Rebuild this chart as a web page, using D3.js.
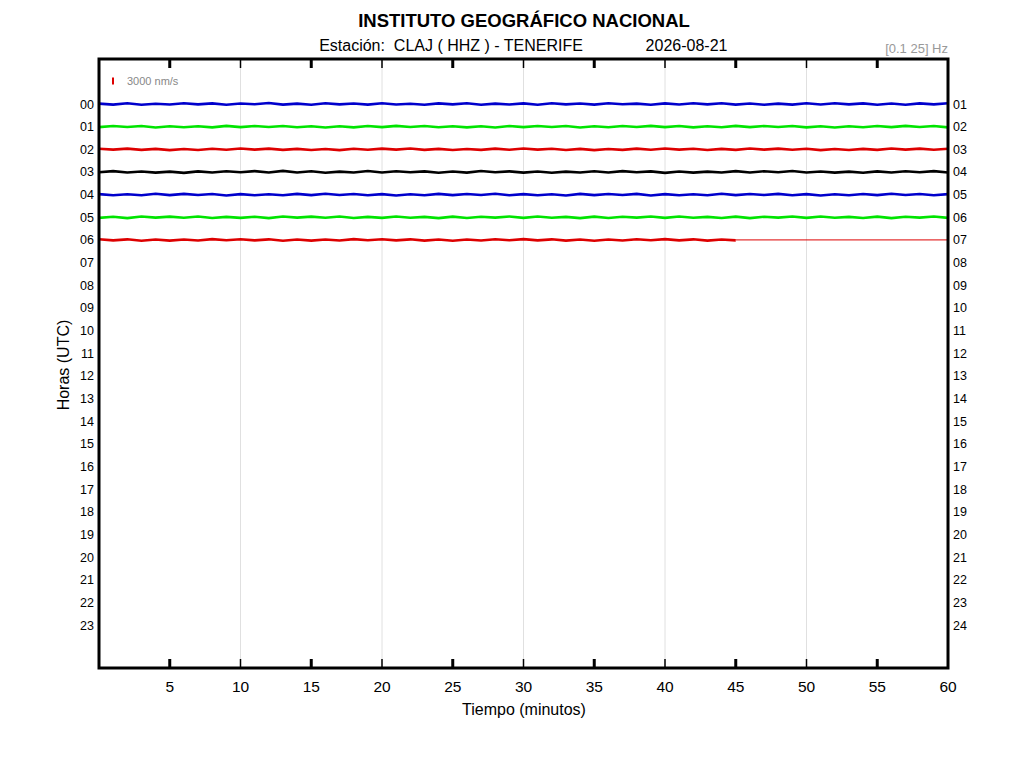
<!DOCTYPE html>
<html><head><meta charset="utf-8">
<script src="https://cdn.jsdelivr.net/npm/d3@7"></script>
<style>body{margin:0;background:#fff;font-family:"Liberation Sans",Arial,sans-serif}</style>
</head><body><svg id="c" width="1024" height="768"></svg>
<script>
// ---- data ----
const title = "INSTITUTO GEOGRÁFICO NACIONAL";
const station = "Estación:  CLAJ ( HHZ ) - TENERIFE";
const dateLabel = "2026-08-21";
const bandLabel = "[0.1 25] Hz";
const scaleLabel = "3000 nm/s";
const scaleValue = 3000;
const hoursLeft = ["00","01","02","03","04","05","06","07","08","09","10","11","12","13","14","15","16","17","18","19","20","21","22","23"];
const hoursRight = ["01","02","03","04","05","06","07","08","09","10","11","12","13","14","15","16","17","18","19","20","21","22","23","24"];
const xTicks = [5,10,15,20,25,30,35,40,45,50,55,60];
const gridMinutes = [10,20,30,40,50];
const traceColors = ["#0000cc","#00e400","#dd0000","#000000"];
const traceEnd = [60,60,60,60,60,60,45]; // minute where recorded data stops
// samples (nm/s), read approx. from picture
const trace00 = [150,-250,300,-350,100,-200,350,-150,250,-300,200,-100,400,-250,150,-350,300,-150,200,-250,350,-200,100,-300,250,-150,300,-350,150,-200,250,-300,350,-150,200,-250,300,-100,150,-350,250,-200,300,-150,350,-250,200,-300,150,-250,300,-200,350,-150,250,-300,200,-350,250,-150,300];
const trace01 = [-200,300,-150,250,-350,200,-250,150,-300,350,-200,250,-150,300,-250,200,-350,150,-300,250,-200,350,-150,300,-250,200,-300,150,-350,250,-200,300,-150,250,-350,200,-250,300,-150,350,-200,250,-300,150,-250,350,-200,300,-150,250,-300,200,-350,150,-250,300,-200,350,-150,250,-300];
const trace02 = [250,-150,300,-250,200,-350,150,-300,250,-200,350,-150,300,-250,200,-300,150,-350,250,-200,300,-150,350,-250,200,-300,150,-250,300,-200,350,-150,250,-300,200,-350,150,-250,300,-200,350,-150,250,-300,200,-250,350,-150,300,-200,250,-350,150,-300,200,-250,350,-150,300,-200,250];
const trace03 = [-150,350,-250,200,-300,150,-400,250,-200,300,-150,350,-250,450,-200,300,-350,150,-250,400,-200,300,-150,250,-350,200,-300,400,-150,250,-300,200,-350,150,-250,300,-200,350,-150,250,-400,200,-300,150,-250,350,-200,300,-150,400,-250,200,-300,150,-350,250,-200,300,-150,350,-250];
const trace04 = [200,-300,150,-250,350,-200,300,-150,250,-350,200,-300,150,-250,300,-200,350,-150,250,-300,200,-350,150,-250,300,-200,250,-150,350,-300,200,-250,150,-350,300,-200,250,-150,300,-350,200,-250,150,-300,350,-200,250,-150,300,-250,200,-350,150,-300,250,-200,350,-150,250,-300,200];
const trace05 = [-250,200,-350,300,-150,250,-200,350,-300,150,-250,200,-350,300,-150,250,-200,350,-300,150,-250,300,-200,150,-350,250,-300,200,-150,350,-250,300,-200,150,-350,250,-300,200,-150,350,-250,300,-200,150,-300,250,-350,200,-150,300,-250,350,-200,150,-300,250,-350,200,-150,300,-250];
const trace06 = [300,-200,250,-350,150,-300,200,-250,350,-150,300,-200,250,-350,150,-300,200,-250,350,-150,300,-200,250,-300,150,-350,200,-250,300,-150,350,-200,250,-300,150,-350,200,-250,300,-150,350,-200,250,-300,150,-200];
const traces = [trace00,trace01,trace02,trace03,trace04,trace05,trace06];

// ---- drawing ----
const svg = d3.select("#c");
const L=99, R=948, T=59, B=668;
const x = d3.scaleLinear().domain([0,60]).range([L,R]);
const y = d3.scaleLinear().domain([0,23]).range([104,625]);
const amp = d3.scaleLinear().domain([0,scaleValue]).range([0,7]);

svg.append("text").attr("x",524).attr("y",26.5).attr("text-anchor","middle")
  .attr("font-size",18.5).attr("font-weight","bold").text(title);
svg.append("text").attr("x",451).attr("y",51).attr("text-anchor","middle")
  .attr("font-size",16).style("white-space","pre").text(station);
svg.append("text").attr("x",686.5).attr("y",51).attr("text-anchor","middle")
  .attr("font-size",16).text(dateLabel);
svg.append("text").attr("x",948).attr("y",53).attr("text-anchor","end")
  .attr("font-size",13).attr("fill","#999").text(bandLabel);

// grid
svg.append("g").selectAll("line").data(gridMinutes).join("line")
  .attr("x1",d=>x(d)).attr("x2",d=>x(d)).attr("y1",T).attr("y2",B)
  .attr("stroke","#e0e0e0").attr("stroke-width",1);

// legend scale bar
svg.append("line").attr("x1",113).attr("x2",113)
  .attr("y1",81-amp(scaleValue)/2).attr("y2",81+amp(scaleValue)/2)
  .attr("stroke","#dd0000").attr("stroke-width",2);
svg.append("text").attr("x",127).attr("y",85).attr("font-size",11).attr("fill","#888").text(scaleLabel);

// traces
const gT = svg.append("g");
traces.forEach((tr,h)=>{
  const col = traceColors[h%traceColors.length];
  const step = traceEnd[h]/(tr.length-1);
  const line = d3.line().x((d,i)=>x(i*step)).y(d=>y(h)-amp(d));
  gT.append("path").attr("d",line(tr)).attr("fill","none")
    .attr("stroke",col).attr("stroke-width",2.6);
  if(traceEnd[h]<60){
    gT.append("line").attr("x1",x(traceEnd[h])).attr("x2",x(60))
      .attr("y1",y(h)).attr("y2",y(h)).attr("stroke",col).attr("stroke-width",1);
  }
});

// hour labels
svg.append("g").selectAll("text").data(hoursLeft).join("text")
  .attr("x",94).attr("y",(d,i)=>y(i)+4.5).attr("text-anchor","end")
  .attr("font-size",12.5).text(d=>d);
svg.append("g").selectAll("text").data(hoursRight).join("text")
  .attr("x",953).attr("y",(d,i)=>y(i)+4.5)
  .attr("font-size",12.5).text(d=>d);

// ticks
const tk = xTicks.filter(d=>d<60);
svg.append("g").selectAll("line").data(tk).join("line")
  .attr("x1",d=>x(d)).attr("x2",d=>x(d)).attr("y1",T).attr("y2",T+9)
  .attr("stroke","#000").attr("stroke-width",d=>d%10===0?1.5:3);
svg.append("g").selectAll("line").data(tk).join("line")
  .attr("x1",d=>x(d)).attr("x2",d=>x(d)).attr("y1",B).attr("y2",B-9)
  .attr("stroke","#000").attr("stroke-width",d=>d%10===0?1.5:3);

// frame
svg.append("rect").attr("x",L).attr("y",T).attr("width",R-L).attr("height",B-T)
  .attr("fill","none").attr("stroke","#000").attr("stroke-width",3);

// x tick labels
svg.append("g").selectAll("text").data(xTicks).join("text")
  .attr("x",d=>x(d)).attr("y",692).attr("text-anchor","middle")
  .attr("font-size",15.5).text(d=>d);

svg.append("text").attr("x",524).attr("y",715).attr("text-anchor","middle")
  .attr("font-size",16).text("Tiempo (minutos)");
svg.append("text").attr("transform","translate(69,365) rotate(-90)").attr("text-anchor","middle")
  .attr("font-size",16).text("Horas (UTC)");
</script></body></html>
